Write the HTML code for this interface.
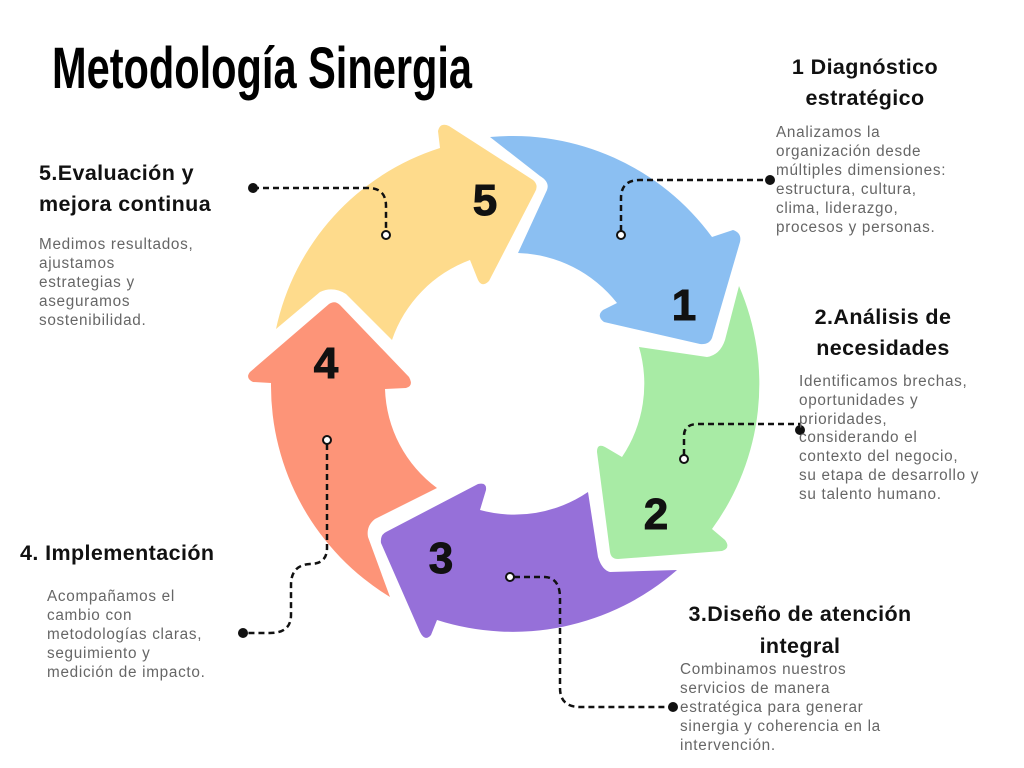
<!DOCTYPE html>
<html><head><meta charset="utf-8"><style>
html,body{margin:0;padding:0;background:#fff;}
svg{display:block}
.h{font-family:"Liberation Sans",sans-serif;font-weight:bold;font-size:21.5px;fill:#111;letter-spacing:0.4px}
.b{font-family:"Liberation Sans",sans-serif;font-size:15.3px;fill:#666;letter-spacing:0.7px}
.n{font-family:"Liberation Sans",sans-serif;font-weight:bold;font-size:44px;fill:#111;text-anchor:middle;stroke:#111;stroke-width:1}
.d{fill:none;stroke:#111;stroke-width:2.5;stroke-dasharray:6 4}
</style></head><body>
<svg width="1024" height="768" viewBox="0 0 1024 768">
<text x="52" y="88" textLength="420" lengthAdjust="spacingAndGlyphs" style="font-family:'Liberation Sans Narrow','Liberation Sans',sans-serif;font-weight:bold;font-size:58px;fill:#000">Metodología Sinergia</text>

<path fill="#8BBFF2" d="M490,137 A247,247 0 0 1 712,237 L733,230 Q742,233 740,242 L712,338 Q709,345 700,344 L604,322 Q596,316 603,310 L617,303 A131,131 0 0 0 518,253 L547,190 Q550,182 540,176 Z"/>
<path fill="#A8EBA5" d="M739,286 A246,246 0 0 1 712,529 L725,540 Q731,548 722,551 L618,559 Q611,559 610,552 L597,452 Q597,443 605,447 L622,457 A131,131 0 0 0 639,347 L707,357 Q720,355 725,340 Z"/>
<path fill="#9670D9" d="M677,570 A249,249 0 0 1 437,620 L431,635 Q425,642 420,632 L381,543 Q380,535 386,532 L478,484 Q487,482 486,490 L480,510 A131,131 0 0 0 588,492 L598,557 Q602,570 610,572 Z"/>
<path fill="#FD9478" d="M390,597 A247,247 0 0 1 271,383 L253,382 Q245,378 250,372 L329,304 Q335,300 340,305 L409,377 Q414,386 406,388 L385,389 A128,128 0 0 0 437,488 L375,519 Q366,526 368,537 Z"/>
<path fill="#FEDB8C" d="M276,329 A243,243 0 0 1 440,148 L438,131 Q440,122 449,126 L533,180 Q539,185 535,192 L489,281 Q482,288 478,280 L470,260 A130,130 0 0 0 392,340 L346,294 Q333,286 320,292 Z"/>

<text class="n" x="485" y="215">5</text>
<text class="n" x="684" y="320">1</text>
<text class="n" x="656" y="529">2</text>
<text class="n" x="441" y="573">3</text>
<text class="n" x="326" y="378">4</text>

<path class="d" d="M253,188 H368 Q386,188 386,206 V231"/>
<circle cx="253" cy="188" r="5" fill="#111"/><circle cx="386" cy="235" r="4" fill="#fff" stroke="#111" stroke-width="2"/>
<path class="d" d="M621,231 V198 Q621,180 640,180 H770"/>
<circle cx="770" cy="180" r="5" fill="#111"/><circle cx="621" cy="235" r="4" fill="#fff" stroke="#111" stroke-width="2"/>
<path class="d" d="M684,455 V436 Q684,424 698,424 H800"/>
<circle cx="800" cy="430" r="5" fill="#111"/><circle cx="684" cy="459" r="4" fill="#fff" stroke="#111" stroke-width="2"/>
<path class="d" d="M514,577 H545 Q560,578 560,598 V688 Q560,707 580,707 H673"/>
<circle cx="673" cy="707" r="5" fill="#111"/><circle cx="510" cy="577" r="4" fill="#fff" stroke="#111" stroke-width="2"/>
<path class="d" d="M327,444 V548 Q327,564 310,564 Q291,565 291,585 V615 Q291,633 270,633 H243"/>
<circle cx="243" cy="633" r="5" fill="#111"/><circle cx="327" cy="440" r="4" fill="#fff" stroke="#111" stroke-width="2"/>

<text class="h" x="865" y="74" text-anchor="middle">1 Diagnóstico</text>
<text class="h" x="865" y="105" text-anchor="middle">estratégico</text>
<g class="b"><text x="776" y="137">Analizamos la</text><text x="776" y="156">organización desde</text><text x="776" y="175">múltiples dimensiones:</text><text x="776" y="194">estructura, cultura,</text><text x="776" y="213">clima, liderazgo,</text><text x="776" y="232">procesos y personas.</text></g>
<text class="h" x="883" y="324" text-anchor="middle">2.Análisis de</text>
<text class="h" x="883" y="355" text-anchor="middle">necesidades</text>
<g class="b"><text x="799" y="386">Identificamos brechas,</text><text x="799" y="405">oportunidades y</text><text x="799" y="424">prioridades,</text><text x="799" y="442">considerando el</text><text x="799" y="461">contexto del negocio,</text><text x="799" y="480">su etapa de desarrollo y</text><text x="799" y="499">su talento humano.</text></g>
<text class="h" x="800" y="621" text-anchor="middle">3.Diseño de atención</text>
<text class="h" x="800" y="653" text-anchor="middle">integral</text>
<g class="b"><text x="680" y="674">Combinamos nuestros</text><text x="680" y="693">servicios de manera</text><text x="680" y="712">estratégica para generar</text><text x="680" y="731">sinergia y coherencia en la</text><text x="680" y="750">intervención.</text></g>
<text class="h" x="20" y="560">4. Implementación</text>
<g class="b"><text x="47" y="601">Acompañamos el</text><text x="47" y="620">cambio con</text><text x="47" y="639">metodologías claras,</text><text x="47" y="658">seguimiento y</text><text x="47" y="677">medición de impacto.</text></g>
<text class="h" x="39" y="180">5.Evaluación y</text>
<text class="h" x="39" y="211">mejora continua</text>
<g class="b"><text x="39" y="249">Medimos resultados,</text><text x="39" y="268">ajustamos</text><text x="39" y="287">estrategias y</text><text x="39" y="306">aseguramos</text><text x="39" y="325">sostenibilidad.</text></g>
</svg>
</body></html>
